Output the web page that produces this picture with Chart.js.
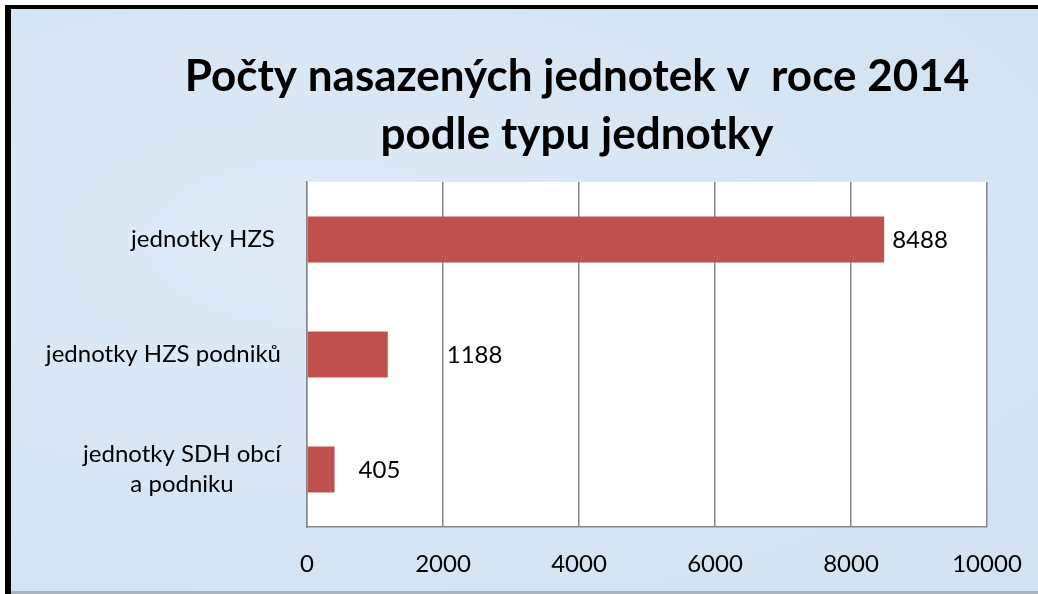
<!DOCTYPE html>
<html>
<head>
<meta charset="utf-8">
<script src="https://cdn.jsdelivr.net/npm/chart.js@4.4.1/dist/chart.umd.min.js"></script>
<style>
  html, body { margin: 0; padding: 0; background: #ffffff; }
  #wrap { position: relative; width: 1038px; height: 594px; overflow: hidden; background: #ffffff; }
  #bg { position: absolute; left: 11px; top: 9px; width: 1027px; height: 583px;
        background: radial-gradient(ellipse at 30% 40%, #dfeaf6 0%, #d6e5f3 55%, #d2e2f1 100%); }
  #bottomline { position: absolute; left: 11px; top: 591px; width: 1027px; height: 3px; background: #a9b3bd; }
  #ftop { position: absolute; left: 5px; top: 5px; width: 1033px; height: 4px; background: #000; }
  #fleft { position: absolute; left: 5px; top: 5px; width: 6px; height: 589px; background: #000; }
  canvas { position: absolute; left: 0; top: 0; }
</style>
</head>
<body>
<div id="wrap">
  <div id="bg"></div>
  <div id="bottomline"></div>
  <canvas id="c" width="1038" height="594"></canvas>
  <div id="ftop"></div>
  <div id="fleft"></div>
</div>
<script>
// ---- data ----
const titleLines = ['Počty nasazených jednotek v  roce 2014', 'podle typu jednotky'];
const categories = [['jednotky HZS '], ['jednotky HZS podniků'], ['jednotky SDH obcí', 'a podniku']];
const values = [8488, 1188, 405];
const xTicks = [0, 2000, 4000, 6000, 8000, 10000];

// ---- styling ----
const labelOffsets = [8, 59, 24];
const FONT = 'Lato, "Open Sans", sans-serif';
const gridColor = '#878787';

const bgPlugin = {
  id: 'plotBg',
  beforeDraw(chart) {
    const { ctx, chartArea: a } = chart;
    ctx.save();
    ctx.fillStyle = '#ffffff';
    ctx.fillRect(a.left, a.top, a.right - a.left, a.bottom - a.top);
    ctx.restore();
  }
};

const titlePlugin = {
  id: 'titleText',
  afterDraw(chart) {
    const ctx = chart.ctx;
    ctx.save();
    ctx.fillStyle = '#000';
    ctx.font = 'bold 44px ' + FONT;
    ctx.textAlign = 'center';
    ctx.textBaseline = 'alphabetic';
    titleLines.forEach((t, i) => ctx.fillText(t, 577, 91 + i * 58));
    ctx.restore();
  }
};

const catLabelPlugin = {
  id: 'catLabels',
  afterDraw(chart) {
    const ctx = chart.ctx;
    const y = chart.scales.y;
    const rightEdge = chart.chartArea.left - 26;
    ctx.save();
    ctx.fillStyle = '#000';
    ctx.font = '24px ' + FONT;
    ctx.textBaseline = 'middle';
    ctx.textAlign = 'center';
    const lh = 30;
    categories.forEach((lines, i) => {
      const cy = y.getPixelForTick(i);
      const w = Math.max(...lines.map(l => ctx.measureText(l).width));
      const cx = rightEdge - w / 2;
      const y0 = cy - (lines.length - 1) * lh / 2;
      lines.forEach((l, j) => ctx.fillText(l, cx, y0 + j * lh));
    });
    ctx.restore();
  }
};

const valueLabelPlugin = {
  id: 'valueLabels',
  afterDatasetsDraw(chart) {
    const ctx = chart.ctx;
    const meta = chart.getDatasetMeta(0);
    ctx.save();
    ctx.fillStyle = '#000';
    ctx.font = '24px ' + FONT;
    ctx.textAlign = 'left';
    ctx.textBaseline = 'middle';
    meta.data.forEach((bar, i) => {
      ctx.fillText(String(values[i]), bar.x + labelOffsets[i], bar.y + 1);
    });
    ctx.restore();
  }
};

new Chart(document.getElementById('c'), {
  type: 'bar',
  data: {
    labels: categories,
    datasets: [{
      data: values,
      backgroundColor: '#c0504d',
      borderWidth: 0,
      barPercentage: 0.5,
      categoryPercentage: 0.8
    }]
  },
  options: {
    indexAxis: 'y',
    responsive: false,
    animation: false,
    devicePixelRatio: 1,
    layout: { padding: { left: 116, right: 51, top: 182, bottom: 0 } },
    plugins: {
      legend: { display: false },
      title: { display: false },
      tooltip: { enabled: false }
    },
    scales: {
      x: {
        min: xTicks[0],
        max: xTicks[xTicks.length - 1],
        afterBuildTicks(scale) { scale.ticks = xTicks.map(v => ({ value: v })); },
        afterFit(scale) { scale.height = 67; scale.paddingLeft = 0; scale.paddingRight = 0; },
        ticks: { color: '#000', font: { family: FONT, size: 24 }, padding: 23, maxRotation: 0,
                 callback: v => String(v) },
        grid: { color: gridColor, lineWidth: 1.5, drawTicks: false },
        border: { display: true, color: gridColor, width: 1.5 }
      },
      y: {
        afterFit(scale) { scale.width = 191; scale.paddingTop = 0; scale.paddingBottom = 0; },
        ticks: { display: false },
        grid: { display: false, drawTicks: false },
        border: { display: true, color: gridColor, width: 1.5 }
      }
    }
  },
  plugins: [bgPlugin, valueLabelPlugin, catLabelPlugin, titlePlugin]
});
</script>
</body>
</html>
